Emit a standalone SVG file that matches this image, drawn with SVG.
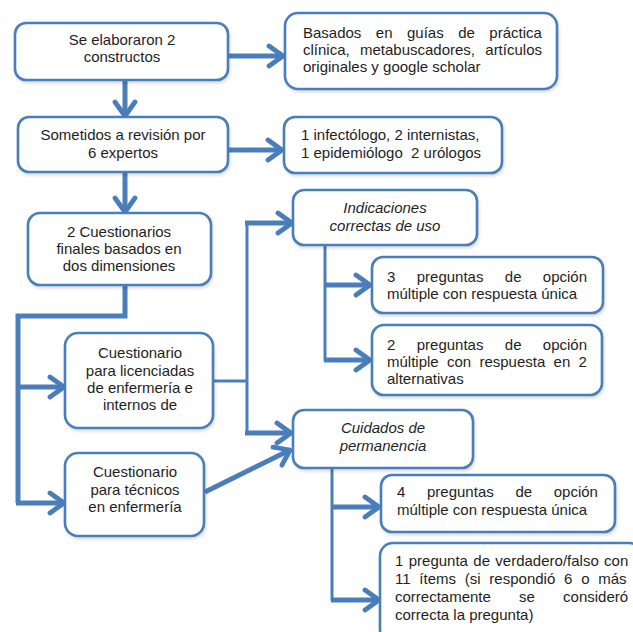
<svg xmlns="http://www.w3.org/2000/svg" width="633" height="632" viewBox="0 0 633 632">
  <defs>
    <style>
      .box { fill: #ffffff; stroke: #4a7ebb; stroke-width: 2.6; filter: url(#sh); }
      .t { font-family: "Liberation Sans", Arial, sans-serif; font-size: 15px; fill: #1e1e1e; }
      .c { text-anchor: middle; }
      .i { font-style: italic; }
      .ln { fill: none; stroke: #4a7ebb; stroke-width: 5; }
      .thin { fill: none; stroke: #4a7ebb; stroke-width: 3; }
      .ar { marker-end: url(#arr); }
    </style>
    <marker id="arr" markerUnits="userSpaceOnUse" viewBox="0 0 22 26" markerWidth="22" markerHeight="26" refX="18" refY="13" orient="auto">
      <path d="M4,3 L18,13 L4,23" fill="none" stroke="#4a7ebb" stroke-width="4.8" stroke-linecap="round" stroke-linejoin="round"/>
    </marker>
    <filter id="sh" x="-10%" y="-10%" width="120%" height="130%">
      <feDropShadow dx="1" dy="2" stdDeviation="1.5" flood-color="#000" flood-opacity="0.15"/>
    </filter>
  </defs>

  <g id="connectors">
    <line class="ln ar" x1="228" y1="56" x2="283" y2="56"/>
    <line class="ln ar" x1="125" y1="80" x2="125" y2="116"/>
    <line class="ln ar" x1="228" y1="150" x2="282" y2="150"/>
    <line class="ln ar" x1="125" y1="172" x2="125" y2="212"/>
    <polyline class="ln" points="125,285 125,316 18,316 18,503"/>
    <line class="ln ar" x1="16" y1="503" x2="64" y2="503"/>
    <line class="ln ar" x1="18" y1="387" x2="64" y2="387"/>
    <line class="thin" x1="213" y1="381" x2="248" y2="381"/>
    <line class="thin" x1="247" y1="223" x2="247" y2="434"/>
    <line class="ln ar" x1="245" y1="223" x2="292" y2="223"/>
    <line class="ln ar" x1="245" y1="433" x2="291" y2="433"/>
    <line class="ln ar" x1="205" y1="492" x2="290" y2="450"/>
    <line class="thin" x1="325" y1="245" x2="325" y2="361"/>
    <line class="ln ar" x1="324" y1="285" x2="370" y2="285"/>
    <line class="ln ar" x1="324" y1="360" x2="370" y2="360"/>
    <line class="thin" x1="332" y1="468" x2="332" y2="601"/>
    <line class="ln ar" x1="331" y1="507" x2="379" y2="507"/>
    <line class="ln ar" x1="331" y1="600" x2="379" y2="600"/>
  </g>

  <g id="n1">
    <rect class="box" x="15" y="23" width="213" height="57" rx="11"/>
    <text class="t c" x="122" y="45">Se elaboraron 2</text>
    <text class="t c" x="122" y="62">constructos</text>
  </g>
  <g id="n2">
    <rect class="box" x="285" y="13" width="272" height="76" rx="13"/>
    <text class="t" x="303" y="38" word-spacing="10.3">Basados en guías de práctica</text>
    <text class="t" x="303" y="55" word-spacing="6.1">clínica, metabuscadores, artículos</text>
    <text class="t" x="303" y="72">originales y google scholar</text>
  </g>
  <g id="n3">
    <rect class="box" x="18" y="117" width="210" height="55" rx="11"/>
    <text class="t c" x="123" y="140">Sometidos a revisión por</text>
    <text class="t c" x="123" y="158">6 expertos</text>
  </g>
  <g id="n4">
    <rect class="box" x="284" y="117" width="218" height="56" rx="11"/>
    <text class="t" x="301" y="140">1 infectólogo, 2 internistas,</text>
    <text class="t" x="301" y="158" xml:space="preserve">1 epidemiólogo  2 urólogos</text>
  </g>
  <g id="n5">
    <rect class="box" x="28" y="213" width="183" height="72" rx="12"/>
    <text class="t c" x="119" y="237">2 Cuestionarios</text>
    <text class="t c" x="119" y="254">finales basados en</text>
    <text class="t c" x="119" y="271">dos dimensiones</text>
  </g>
  <g id="n6">
    <rect class="box" x="65" y="333" width="148" height="95" rx="13"/>
    <text class="t c" x="140" y="358">Cuestionario</text>
    <text class="t c" x="140" y="376">para licenciadas</text>
    <text class="t c" x="140" y="393">de enfermería e</text>
    <text class="t c" x="140" y="410">internos de</text>
  </g>
  <g id="n7">
    <rect class="box" x="65" y="453" width="139" height="83" rx="13"/>
    <text class="t c" x="135" y="477">Cuestionario</text>
    <text class="t c" x="135" y="495">para técnicos</text>
    <text class="t c" x="135" y="512">en enfermería</text>
  </g>
  <g id="n8">
    <rect class="box" x="293" y="190" width="184" height="55" rx="11"/>
    <text class="t c i" x="385" y="213">Indicaciones</text>
    <text class="t c i" x="385" y="231">correctas de uso</text>
  </g>
  <g id="n9">
    <rect class="box" x="372" y="257" width="231" height="56" rx="11"/>
    <text class="t" x="387" y="282" word-spacing="17.2">3 preguntas de opción</text>
    <text class="t" x="387" y="299">múltiple con respuesta única</text>
  </g>
  <g id="n10">
    <rect class="box" x="372" y="325" width="230" height="70" rx="12"/>
    <text class="t" x="387" y="350" word-spacing="17.2">2 preguntas de opción</text>
    <text class="t" x="387" y="367" word-spacing="4.1">múltiple con respuesta en 2</text>
    <text class="t" x="387" y="384">alternativas</text>
  </g>
  <g id="n11">
    <rect class="box" x="293" y="410" width="180" height="58" rx="11"/>
    <text class="t c i" x="383" y="433">Cuidados de</text>
    <text class="t c i" x="383" y="451">permanencia</text>
  </g>
  <g id="n12">
    <rect class="box" x="381" y="475" width="234" height="57" rx="11"/>
    <text class="t" x="397" y="497" word-spacing="17.5">4 preguntas de opción</text>
    <text class="t" x="397" y="515">múltiple con respuesta única</text>
  </g>
  <g id="n13">
    <rect class="box" x="380" y="543" width="262" height="100" rx="13"/>
    <text class="t" x="395" y="566" word-spacing="1.2">1 pregunta de verdadero/falso con</text>
    <text class="t" x="395" y="584" word-spacing="4.6">11 ítems (si respondió 6 o más</text>
    <text class="t" x="395" y="602" word-spacing="24">correctamente se consideró</text>
    <text class="t" x="395" y="620">correcta la pregunta)</text>
  </g>
</svg>
